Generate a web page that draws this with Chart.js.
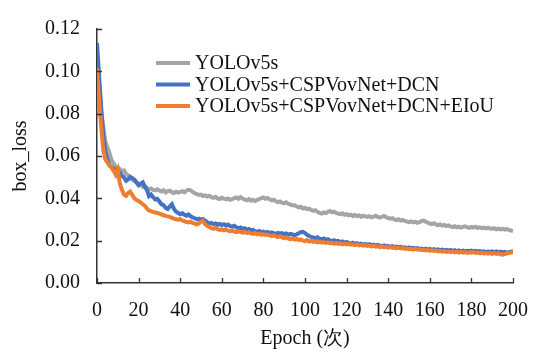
<!DOCTYPE html>
<html>
<head>
<meta charset="utf-8">
<script src="https://cdn.jsdelivr.net/npm/chart.js@4.4.1/dist/chart.umd.min.js"></script>
<style>
  html, body { margin: 0; padding: 0; background: #fff; }
  #wrap { width: 535px; height: 354px; }
</style>
</head>
<body>
<div id="wrap"><canvas id="lossChart" width="535" height="354"></canvas></div>
<script>
// series names and tick labels
const seriesNames = ["YOLOv5s", "YOLOv5s+CSPVovNet+DCN", "YOLOv5s+CSPVovNet+DCN+EIoU"];
const yTicks = [0, 0.02, 0.04, 0.06, 0.08, 0.1, 0.12];
const xTicks = [0, 20, 40, 60, 80, 100, 120, 140, 160, 180, 200];

// box_loss per epoch (0..200)
const gray = [
  0.107, 0.093, 0.081, 0.074, 0.067, 0.064, 0.0615, 0.058, 0.0565, 0.055,
  0.0545, 0.0538, 0.0528, 0.0532, 0.0515, 0.0508, 0.0495, 0.0488, 0.0482, 0.0476,
  0.0468, 0.0462, 0.0455, 0.0458, 0.0448, 0.0442, 0.0446, 0.0440, 0.0438, 0.0443,
  0.0437, 0.0432, 0.0438, 0.0428, 0.0434, 0.0436, 0.0429, 0.0425, 0.0431, 0.0427,
  0.0430, 0.0434, 0.0428, 0.0436, 0.0440, 0.0438, 0.0430, 0.0424, 0.0420, 0.0416,
  0.0418, 0.0411, 0.0414, 0.0408, 0.0412, 0.0405, 0.0402, 0.0407, 0.0400, 0.0397,
  0.0403, 0.0398, 0.0395, 0.0399, 0.0393, 0.0396, 0.0401, 0.0404, 0.0398, 0.0406,
  0.0399, 0.0394, 0.0391, 0.0396, 0.0389, 0.0393, 0.0387, 0.0392, 0.0397, 0.0401,
  0.0404, 0.0398, 0.0402, 0.0395, 0.0390, 0.0393, 0.0386, 0.0382, 0.0385, 0.0379,
  0.0377, 0.0381, 0.0374, 0.0370, 0.0366, 0.0368, 0.0361, 0.0357, 0.0360, 0.0352,
  0.0355, 0.0349, 0.0351, 0.0345, 0.0341, 0.0344, 0.0336, 0.0331, 0.0328, 0.0333,
  0.0330, 0.0336, 0.0340, 0.0334, 0.0337, 0.0331, 0.0328, 0.0325, 0.0329, 0.0322,
  0.0325, 0.0320, 0.0323, 0.0317, 0.0321, 0.0316, 0.0319, 0.0313, 0.0318, 0.0315,
  0.0312, 0.0316, 0.0310, 0.0314, 0.0318, 0.0312, 0.0309, 0.0313, 0.0317, 0.0311,
  0.0307, 0.0304, 0.0306, 0.0300, 0.0297, 0.0301, 0.0295, 0.0298, 0.0293, 0.0290,
  0.0287, 0.0291, 0.0286, 0.0289, 0.0284, 0.0288, 0.0292, 0.0295, 0.0290, 0.0285,
  0.0281, 0.0278, 0.0282, 0.0276, 0.0273, 0.0277, 0.0271, 0.0274, 0.0269, 0.0272,
  0.0267, 0.0264, 0.0268, 0.0263, 0.0266, 0.0262, 0.0265, 0.0268, 0.0264, 0.0261,
  0.0265, 0.0262, 0.0266, 0.0260, 0.0263, 0.0259, 0.0262, 0.0258, 0.0261, 0.0257,
  0.0256, 0.0259, 0.0254, 0.0257, 0.0253, 0.0256, 0.0252, 0.0255, 0.0251, 0.0248,
  0.0246
];
const blue = [
  0.1135, 0.098, 0.083, 0.070, 0.062, 0.0585, 0.0555, 0.0548, 0.0540, 0.0536,
  0.0530, 0.0522, 0.0507, 0.0498, 0.0483, 0.0490, 0.0502, 0.0496, 0.0488, 0.0475,
  0.0462, 0.0470, 0.0476, 0.0455, 0.0440, 0.0410, 0.0418, 0.0405, 0.0395, 0.0398,
  0.0385, 0.0372, 0.0368, 0.0355, 0.0350, 0.0362, 0.0372, 0.0350, 0.0338, 0.0330,
  0.0325, 0.0330, 0.0322, 0.0318, 0.0324, 0.0315, 0.0310, 0.0306, 0.0301, 0.0304,
  0.0298, 0.0302, 0.0295, 0.0288, 0.0280, 0.0284, 0.0278, 0.0281, 0.0275, 0.0279,
  0.0274, 0.0278, 0.0271, 0.0276, 0.0269, 0.0266, 0.0270, 0.0263, 0.0258, 0.0262,
  0.0256, 0.0259, 0.0252, 0.0255, 0.0249, 0.0251, 0.0245, 0.0242, 0.0246, 0.0240,
  0.0243, 0.0238, 0.0241, 0.0236, 0.0239, 0.0235, 0.0232, 0.0237, 0.0233, 0.0236,
  0.0231, 0.0234, 0.0228, 0.0232, 0.0229, 0.0226, 0.0230, 0.0235, 0.0240, 0.0242,
  0.0236, 0.0228, 0.0222, 0.0218, 0.0215, 0.0212, 0.0216, 0.0209, 0.0206, 0.0210,
  0.0204, 0.0207, 0.0201, 0.0198, 0.0202, 0.0196, 0.0199, 0.0193, 0.0196, 0.0191,
  0.0194, 0.0189, 0.0186, 0.0190, 0.0185, 0.0188, 0.0183, 0.0186, 0.0181, 0.0184,
  0.0180, 0.0183, 0.0178, 0.0181, 0.0177, 0.0180, 0.0176, 0.0174, 0.0178, 0.0173,
  0.0175, 0.0171, 0.0174, 0.0170, 0.0172, 0.0168, 0.0171, 0.0167, 0.0169, 0.0165,
  0.0168, 0.0164, 0.0166, 0.0162, 0.0165, 0.0161, 0.0163, 0.0159, 0.0162, 0.0158,
  0.0161, 0.0157, 0.0160, 0.0156, 0.0159, 0.0155, 0.0158, 0.0154, 0.0157, 0.0153,
  0.0156, 0.0152, 0.0155, 0.0151, 0.0154, 0.0150, 0.0153, 0.0149, 0.0152, 0.0150,
  0.0153, 0.0149, 0.0152, 0.0148, 0.0151, 0.0147, 0.0150, 0.0146, 0.0149, 0.0147,
  0.0150, 0.0146, 0.0149, 0.0145, 0.0148, 0.0144, 0.0147, 0.0143, 0.0146, 0.0148,
  0.0150
];
const orange = [
  0.1015, 0.087, 0.074, 0.063, 0.0585, 0.0570, 0.0555, 0.0545, 0.0530, 0.0512,
  0.0535, 0.0470, 0.0440, 0.0418, 0.0412, 0.0425, 0.0432, 0.0415, 0.0400, 0.0392,
  0.0388, 0.0380, 0.0372, 0.0365, 0.0352, 0.0343, 0.0340, 0.0336, 0.0333, 0.0331,
  0.0328, 0.0324, 0.0320, 0.0317, 0.0315, 0.0312, 0.0308, 0.0304, 0.0301, 0.0299,
  0.0302, 0.0296, 0.0292, 0.0288, 0.0286, 0.0290, 0.0284, 0.0280, 0.0277, 0.0281,
  0.0290, 0.0295, 0.0278, 0.0270, 0.0265, 0.0259, 0.0256, 0.0260, 0.0254, 0.0251,
  0.0253, 0.0249, 0.0252, 0.0247, 0.0244, 0.0248, 0.0243, 0.0240, 0.0244, 0.0241,
  0.0238, 0.0242, 0.0236, 0.0239, 0.0235, 0.0232, 0.0236, 0.0230, 0.0233, 0.0228,
  0.0231, 0.0227, 0.0229, 0.0225, 0.0222, 0.0226, 0.0220, 0.0217, 0.0221, 0.0215,
  0.0212, 0.0216, 0.0210, 0.0207, 0.0211, 0.0205, 0.0208, 0.0203, 0.0206, 0.0200,
  0.0198, 0.0203, 0.0196, 0.0199, 0.0194, 0.0197, 0.0192, 0.0195, 0.0191, 0.0193,
  0.0189, 0.0192, 0.0188, 0.0190, 0.0186, 0.0189, 0.0185, 0.0187, 0.0183, 0.0186,
  0.0182, 0.0185, 0.0181, 0.0183, 0.0179, 0.0182, 0.0178, 0.0180, 0.0176, 0.0179,
  0.0175, 0.0177, 0.0173, 0.0176, 0.0172, 0.0174, 0.0170, 0.0173, 0.0169, 0.0171,
  0.0167, 0.0170, 0.0166, 0.0168, 0.0164, 0.0167, 0.0163, 0.0165, 0.0161, 0.0164,
  0.0160, 0.0162, 0.0158, 0.0161, 0.0157, 0.0159, 0.0155, 0.0158, 0.0154, 0.0156,
  0.0152, 0.0155, 0.0151, 0.0153, 0.0149, 0.0152, 0.0148, 0.0151, 0.0147, 0.0149,
  0.0146, 0.0149, 0.0145, 0.0148, 0.0144, 0.0147, 0.0143, 0.0146, 0.0142, 0.0145,
  0.0143, 0.0146, 0.0142, 0.0144, 0.0141, 0.0143, 0.0140, 0.0142, 0.0139, 0.0141,
  0.0138, 0.0141, 0.0137, 0.0140, 0.0136, 0.0134, 0.0137, 0.0139, 0.0142, 0.0144,
  0.0146
];

const colors = ["#a5a5a5", "#4472c4", "#ed7d31"];
const FONT = "'Liberation Serif', 'Times New Roman', serif";
const FSIZE = 20;
const epochs = gray.map((_, i) => i);

function toPoints(arr) {
  return arr.map((v, i) => ({ x: epochs[i], y: v }));
}

// inward tick marks on both axes
const innerTicks = {
  id: "innerTicks",
  afterDraw(chart) {
    const { ctx, chartArea, scales } = chart;
    ctx.save();
    ctx.strokeStyle = "#333";
    ctx.lineWidth = 1.3;
    ctx.beginPath();
    yTicks.forEach((v) => {
      const y = Math.round(scales.y.getPixelForValue(v)) + 0.5;
      ctx.moveTo(chartArea.left, y);
      ctx.lineTo(chartArea.left + 5, y);
    });
    xTicks.forEach((v) => {
      const x = Math.round(scales.x.getPixelForValue(v)) + 0.5;
      ctx.moveTo(x, chartArea.bottom);
      ctx.lineTo(x, chartArea.bottom - 5);
    });
    ctx.stroke();
    ctx.restore();
  },
};

// legend drawn inside the plot
const innerLegend = {
  id: "innerLegend",
  afterDraw(chart) {
    const { ctx } = chart;
    ctx.save();
    ctx.font = FSIZE + "px " + FONT;
    ctx.textBaseline = "middle";
    ctx.fillStyle = "#111";
    const rows = [63, 84.5, 106];
    seriesNames.forEach((name, i) => {
      ctx.strokeStyle = colors[i];
      ctx.lineWidth = 4;
      ctx.beginPath();
      ctx.moveTo(156, rows[i]);
      ctx.lineTo(190, rows[i]);
      ctx.stroke();
      ctx.fillText(name, 195, rows[i] + 1);
    });
    ctx.restore();
  },
};

const ctx = document.getElementById("lossChart").getContext("2d");
new Chart(ctx, {
  type: "line",
  data: {
    datasets: seriesNames.map((name, i) => ({
      label: name,
      data: toPoints([gray, blue, orange][i]),
      borderColor: colors[i],
      borderWidth: 4,
      pointRadius: 0,
      tension: 0,
      fill: false,
      order: 3 - i,
    })),
  },
  options: {
    responsive: false,
    animation: false,
    layout: { padding: { left: 0, right: 22, top: 19, bottom: 0 } },
    plugins: {
      legend: { display: false },
      tooltip: { enabled: false },
    },
    scales: {
      x: {
        type: "linear",
        min: 0,
        max: 200,
        afterFit: (s) => {
          s.height = 71;
          s.paddingLeft = 0;
          s.paddingRight = 0;
        },
        afterBuildTicks: (s) => { s.ticks = xTicks.map((v) => ({ value: v })); },
        grid: { display: false, drawTicks: false },
        border: { display: true, color: "#333", width: 1.5 },
        ticks: {
          color: "#111",
          font: { family: FONT, size: FSIZE },
          padding: 16,
          maxRotation: 0,
        },
        title: {
          display: true,
          text: "Epoch (次)",
          color: "#111",
          font: { family: FONT, size: FSIZE },
          padding: { top: 0, bottom: 3 },
        },
      },
      y: {
        min: 0,
        max: 0.12,
        afterFit: (s) => { s.width = 97; },
        afterBuildTicks: (s) => { s.ticks = yTicks.map((v) => ({ value: v })); },
        grid: { display: false, drawTicks: false },
        border: { display: true, color: "#333", width: 1.5 },
        ticks: {
          color: "#111",
          font: { family: FONT, size: FSIZE },
          padding: 17,
          callback: (v) => v.toFixed(2),
        },
        title: {
          display: true,
          text: "box_loss",
          color: "#111",
          font: { family: FONT, size: FSIZE },
          padding: { top: 9, bottom: 0 },
        },
      },
    },
  },
  plugins: [innerTicks, innerLegend],
});
</script>
</body>
</html>
